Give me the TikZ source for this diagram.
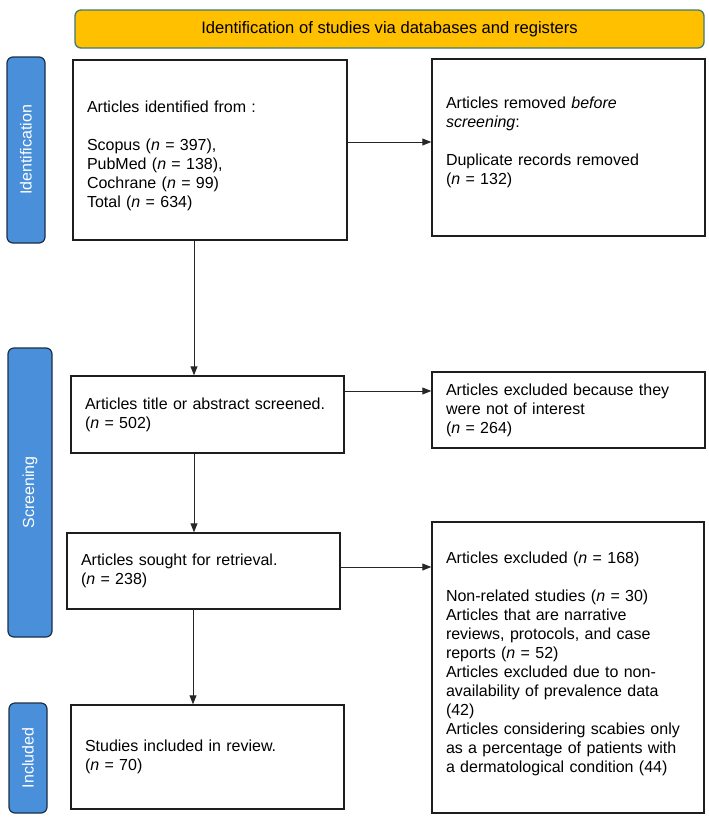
\documentclass[tikz,border=0pt]{standalone}
\usepackage{fontspec}
\setmainfont{Liberation Sans}
\usetikzlibrary{arrows.meta}
\definecolor{bannerfill}{HTML}{FFC000}
\definecolor{bannerline}{HTML}{3E7B74}
\definecolor{labelfill}{HTML}{4A8FDA}
\definecolor{labelline}{HTML}{1B2F48}
\definecolor{boxline}{HTML}{1E1E1E}
\tikzset{
  flowbox/.style={draw=boxline, line width=1.4pt, fill=white, align=left,
    inner xsep=14pt, inner ysep=4pt, anchor=center,
    font=\fontsize{16}{19}\selectfont},
  phaselabel/.style={draw=labelline, line width=1.2pt, fill=labelfill, rounded corners=6pt,
    text=white, rotate=90, anchor=center, inner sep=0pt,
    font=\fontsize{16}{19}\selectfont},
  banner/.style={draw=bannerline, line width=1.3pt, fill=bannerfill, rounded corners=6pt,
    anchor=center, inner sep=0pt, font=\fontsize{16.6}{19}\selectfont},
  conn/.style={draw=black!85, line width=0.9pt, -{Triangle[length=9pt,width=7pt]}}
}
\begin{document}
\begin{tikzpicture}[x=1pt,y=-1pt]
\useasboundingbox (0,0) rectangle (709,820);

\node[banner, minimum width=629pt, minimum height=38pt] (ban) at (389.5,29)
  {Identification of studies via databases and registers};

\node[phaselabel, minimum width=186pt, minimum height=38pt] (lid) at (26,150) {Identification};
\node[phaselabel, minimum width=289pt, minimum height=44pt] (lsc) at (30,492.5) {Screening};
\node[phaselabel, minimum width=110pt, minimum height=38pt] (lin) at (28,758) {Included};

\node[flowbox, text width=246pt, minimum height=180pt] (b1) at (210,150)
  {\rule{0pt}{24pt}Articles identified from :\\[19pt]
   Scopus (\textit{n} = 397),\\
   PubMed (\textit{n} = 138),\\
   Cochrane (\textit{n} = 99)\\
   Total (\textit{n} = 634)};

\node[flowbox, text width=245pt, minimum height=177pt] (b2) at (568.5,147.5)
  {Articles removed \textit{before}\\
   \textit{screening}:\\[19pt]
   Duplicate records removed\\
   (\textit{n} = 132)\\[-5pt]\mbox{}};

\node[flowbox, text width=245pt, minimum height=77pt] (b3) at (207.5,414.5)
  {Articles title or abstract screened.\\
   (\textit{n} = 502)};

\node[flowbox, text width=245pt, minimum height=76pt] (b4) at (568.5,410)
  {Articles excluded because they\\
   were not of interest\\
   (\textit{n} = 264)};

\node[flowbox, text width=245pt, minimum height=76pt] (b5) at (203.5,571)
  {Articles sought for retrieval.\\
   (\textit{n} = 238)};

\node[flowbox, text width=244pt, minimum height=291pt] (b6) at (568,667.5)
  {Articles excluded (\textit{n} = 168)\\[19pt]
   Non-related studies (\textit{n} = 30)\\
   Articles that are narrative\\
   reviews, protocols, and case\\
   reports (\textit{n} = 52)\\
   Articles excluded due to non-\\
   availability of prevalence data\\
   (42)\\
   Articles considering scabies only\\
   as a percentage of patients with\\
   a dermatological condition (44)\\[-9pt]\mbox{}};

\node[flowbox, text width=245pt, minimum height=104pt] (b7) at (207.5,757)
  {Studies included in review.\\
   (\textit{n} = 70)};

\coordinate (v1) at (194,0);
\coordinate (v2) at (193,0);
\coordinate (h1) at (0,142);
\coordinate (h2) at (0,391);
\coordinate (h3) at (0,567);

\draw[conn] (b1.east |- h1) -- (b2.west |- h1);
\draw[conn] (b1.south -| v1) -- (b3.north -| v1);
\draw[conn] (b3.east |- h2) -- (b4.west |- h2);
\draw[conn] (b3.south -| v1) -- (b5.north -| v1);
\draw[conn] (b5.east |- h3) -- (b6.west |- h3);
\draw[conn] (b5.south -| v2) -- (b7.north -| v2);
\end{tikzpicture}
\end{document}
